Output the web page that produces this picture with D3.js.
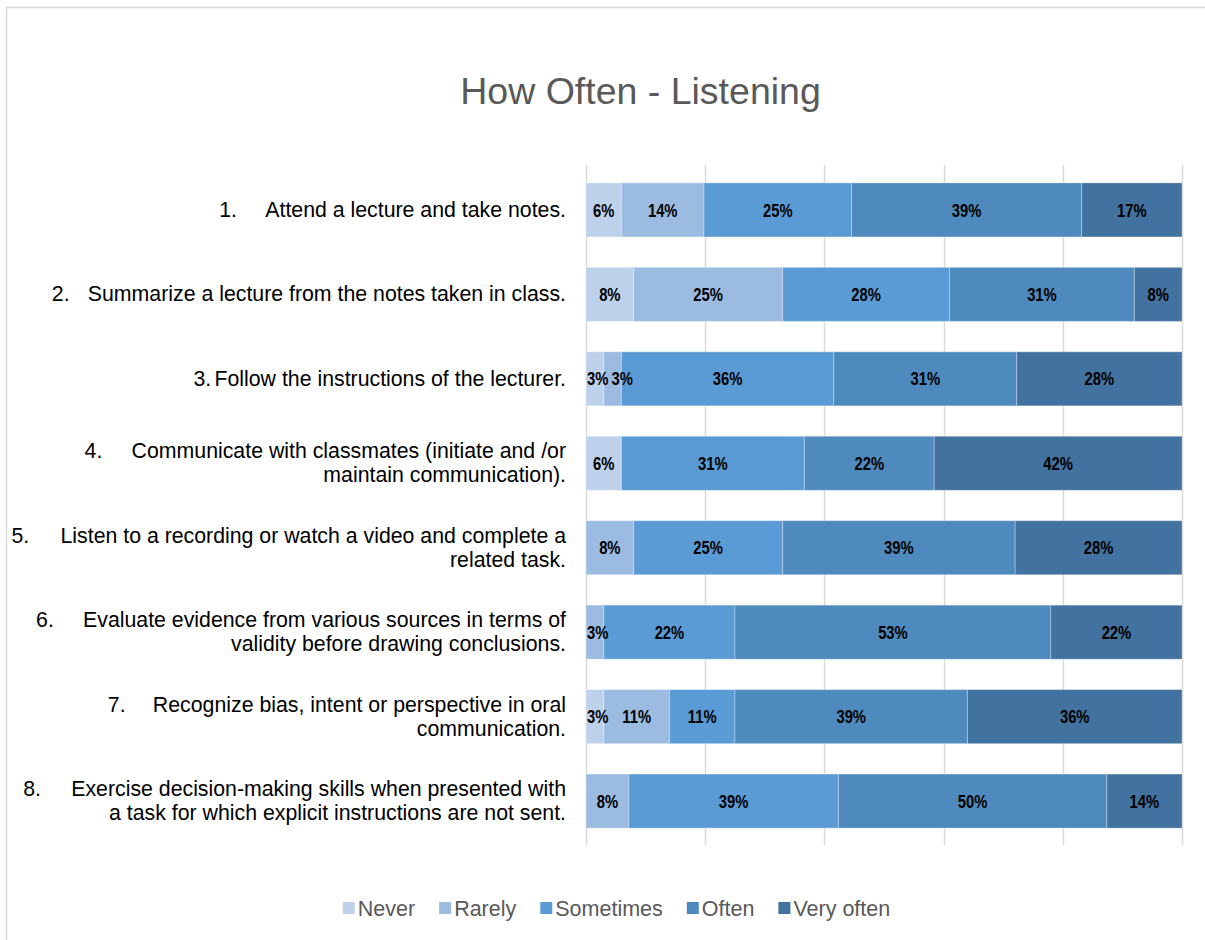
<!DOCTYPE html>
<html>
<head>
<meta charset="utf-8">
<script src="https://cdn.jsdelivr.net/npm/d3@7/dist/d3.min.js"></script>
<style>
  html, body { margin: 0; padding: 0; background: #ffffff; }
  svg { display: block; }
</style>
</head>
<body>
<svg id="chart" width="1205" height="940"></svg>
<script>
// ---- Data ----------------------------------------------------------------
const itemNumbers = ["1.", "2.", "3.", "4.", "5.", "6.", "7.", "8."];
const categoryLines = [
  ["Attend a lecture and take notes."],
  ["Summarize a lecture from the notes taken in class."],
  ["Follow the instructions of the lecturer."],
  ["Communicate with classmates (initiate and /or", "maintain communication)."],
  ["Listen to a recording or watch a video and complete a", "related task."],
  ["Evaluate evidence from various sources in terms of", "validity before drawing conclusions."],
  ["Recognize bias, intent or perspective in oral", "communication."],
  ["Exercise decision-making skills when presented with", "a task for which explicit instructions are not sent."]
];
const seriesNames = ["Never", "Rarely", "Sometimes", "Often", "Very often"];
const never     = [6, 8, 3, 6, 0, 0, 3, 0];
const rarely    = [14, 25, 3, 0, 8, 3, 11, 8];
const sometimes = [25, 28, 36, 31, 25, 22, 11, 39];
const often     = [39, 31, 31, 22, 39, 53, 39, 50];
const veryOften = [17, 8, 28, 42, 28, 22, 36, 14];
const gridTicks = [0, 0.2, 0.4, 0.6, 0.8, 1];

// ---- Layout & style ------------------------------------------------------
const colors = ["#BDD1EB", "#9BBBE1", "#5B9BD5", "#4F8ABE", "#42729F"];
const plot = { left: 586, right: 1182, top: 165, bottom: 845 };
const labelRight = 566;
const numberGap = [46, 36, 21, 47, 49, 47, 45, 48]; // number start -> text start
const catFont = "21.3px 'Liberation Sans', Arial, sans-serif";
const valueFont = "bold 18.5px 'Liberation Sans', Arial, sans-serif";
const narrow = 0.8; // horizontal squeeze for the bold value labels

const svg = d3.select("#chart");

// outer chart frame
svg.append("rect")
  .attr("x", 6.5).attr("y", 7.5)
  .attr("width", 1230).attr("height", 960)
  .attr("fill", "#ffffff")
  .attr("stroke", "#D9D9D9").attr("stroke-width", 1.5);

// title
svg.append("text")
  .attr("x", 640.5).attr("y", 104)
  .attr("text-anchor", "middle")
  .style("font", "37.5px 'Liberation Sans', Arial, sans-serif")
  .attr("fill", "#595959")
  .text("How Often - Listening");

// build rows, normalised to 100%
const valueSets = [never, rarely, sometimes, often, veryOften];
const rows = itemNumbers.map((n, i) => {
  const row = { idx: i };
  seriesNames.forEach((s, k) => { row[s] = valueSets[k][i]; });
  const total = d3.sum(valueSets, v => v[i]);
  seriesNames.forEach(s => { row[s + "_n"] = row[s] / total; });
  return row;
});

const stack = d3.stack().keys(seriesNames.map(s => s + "_n"));
const stacked = stack(rows);

const x = d3.scaleLinear().domain([0, 1]).range([plot.left, plot.right]);
const y = d3.scaleBand()
  .domain(rows.map(r => r.idx))
  .range([plot.top + 1, plot.bottom])
  .paddingInner(0.36)
  .paddingOuter(0.2);

// gridlines
svg.append("g")
  .selectAll("line")
  .data(gridTicks)
  .join("line")
  .attr("x1", d => Math.round(x(d)) + 0.5)
  .attr("x2", d => Math.round(x(d)) + 0.5)
  .attr("y1", plot.top)
  .attr("y2", plot.bottom)
  .attr("stroke", "#D9D9D9")
  .attr("stroke-width", 1.5);

// bars
const layers = svg.append("g")
  .selectAll("g")
  .data(stacked)
  .join("g")
  .attr("fill", (d, k) => colors[k]);

layers.selectAll("rect")
  .data(d => d)
  .join("rect")
  .attr("x", d => x(d[0]))
  .attr("width", d => x(d[1]) - x(d[0]))
  .attr("y", d => y(d.data.idx))
  .attr("height", y.bandwidth())
  .attr("stroke", "rgba(255,255,255,0.3)")
  .attr("stroke-width", 1);

// value labels (condensed bold), nudged apart inside a row when they collide
const labelG = svg.append("g");
rows.forEach((r, i) => {
  const cy = y(i) + y.bandwidth() / 2;
  let prevRight = plot.left + 1;
  stacked.forEach((layer, k) => {
    const v = r[seriesNames[k]];
    if (v <= 0) return;
    const seg = layer[i];
    const t = labelG.append("text")
      .attr("text-anchor", "start")
      .attr("dy", "0.36em")
      .style("font", valueFont)
      .attr("fill", "#000000")
      .text(v + "%");
    const w = t.node().getComputedTextLength() * narrow;
    const center = (x(seg[0]) + x(seg[1])) / 2;
    const left = Math.max(center - w / 2, prevRight);
    t.attr("transform", `translate(${left},${cy}) scale(${narrow},1)`);
    prevRight = left + w + 3;
  });
});

// category labels
const lineH = 24;
const catG = svg.append("g");
rows.forEach((r, i) => {
  const lines = categoryLines[i];
  const cy = y(i) + y.bandwidth() / 2;
  const firstBase = cy - (lines.length - 1) * lineH / 2 + 7;
  lines.forEach((line, j) => {
    const t = catG.append("text")
      .attr("x", labelRight)
      .attr("y", firstBase + j * lineH)
      .attr("text-anchor", "end")
      .style("font", catFont)
      .attr("fill", "#000000")
      .text(line);
    if (j === 0) {
      const w = t.node().getComputedTextLength();
      catG.append("text")
        .attr("x", labelRight - w - numberGap[i])
        .attr("y", firstBase)
        .style("font", catFont)
        .attr("fill", "#000000")
        .text(itemNumbers[i]);
    }
  });
});

// legend
const legend = svg.append("g");
const legFont = "21.5px 'Liberation Sans', Arial, sans-serif";
const sq = 12, sqGap = 3, itemGap = 24;
const items = legend.selectAll("g").data(seriesNames).join("g");
items.append("rect")
  .attr("width", sq).attr("height", sq)
  .attr("fill", (d, k) => colors[k]);
items.append("text")
  .attr("x", sq + sqGap)
  .attr("y", sq / 2)
  .attr("dy", "0.36em")
  .style("font", legFont)
  .attr("fill", "#595959")
  .text(d => d);
let cursor = 0;
const widths = [];
items.each(function () {
  const w = sq + sqGap + d3.select(this).select("text").node().getComputedTextLength();
  widths.push(w);
});
const totalW = d3.sum(widths) + itemGap * (widths.length - 1);
const legendLeft = 616.5 - totalW / 2;
items.attr("transform", (d, k) => {
  const tx = legendLeft + cursor;
  cursor += widths[k] + itemGap;
  return `translate(${tx},${902})`;
});
</script>
</body>
</html>
